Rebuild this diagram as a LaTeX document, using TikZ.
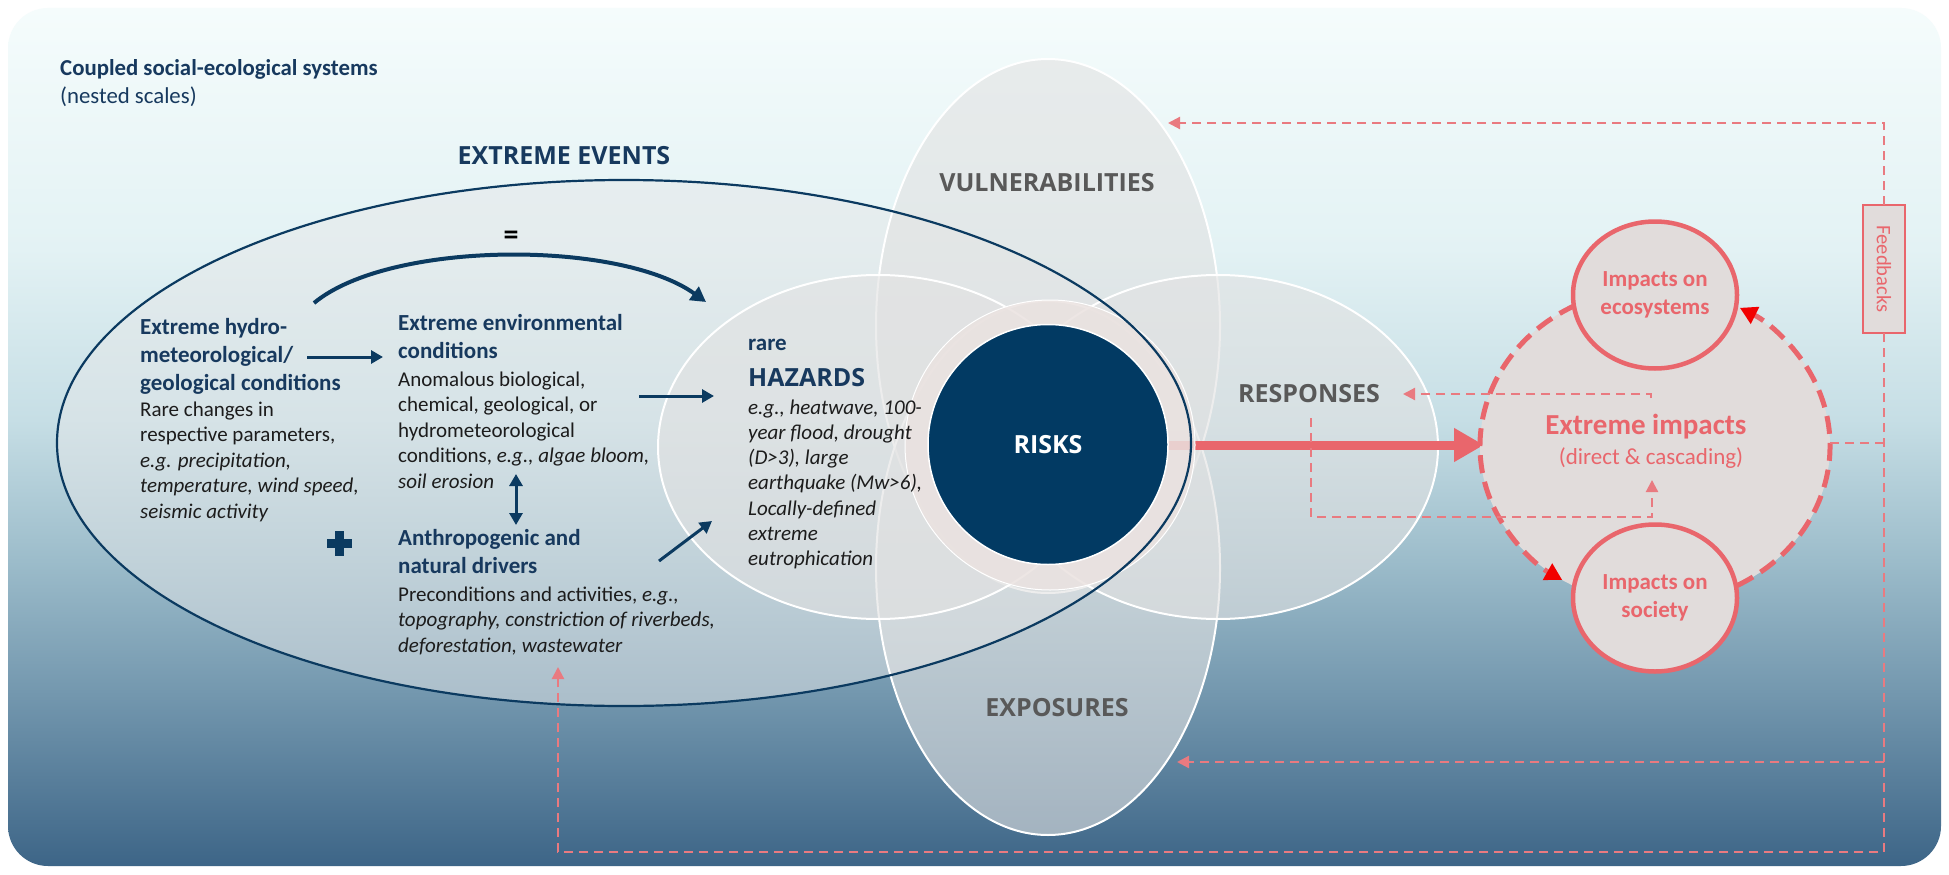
\documentclass[tikz,border=0pt]{standalone}
\usepackage{fontspec}
\setmainfont{Carlito}
\newfontfamily\osans{Open Sans}
\usetikzlibrary{arrows.meta,shapes.geometric,calc}
\definecolor{navy}{HTML}{0B3A60}
\definecolor{navytxt}{HTML}{17395E}
\definecolor{risknavy}{HTML}{023A63}
\definecolor{labgray}{HTML}{595959}
\definecolor{bodytxt}{HTML}{1C1C1C}
\definecolor{pinkc}{HTML}{E9666C}
\definecolor{pinkd}{HTML}{E97A80}
\definecolor{tipred}{HTML}{F20000}
\definecolor{petal}{HTML}{E2E2E2}
\definecolor{eefill}{HTML}{E6E8E9}
\definecolor{ringc}{HTML}{EAE2E0}
\definecolor{impfill}{HTML}{E1DCDB}
\definecolor{bgA}{HTML}{3D6587}
\definecolor{bgB}{HTML}{7397AE}
\definecolor{bgC}{HTML}{9DBDCB}
\definecolor{bgD}{HTML}{C6DEE5}
\definecolor{bgE}{HTML}{E3F2F4}
\definecolor{bgF}{HTML}{F5FCFC}
\pgfdeclareverticalshading{bgshade}{100bp}{color(0bp)=(bgA); color(25bp)=(bgA); color(35bp)=(bgB); color(43bp)=(bgC); color(51bp)=(bgD); color(61bp)=(bgE); color(75bp)=(bgF); color(100bp)=(bgF)}
\begin{document}
\begin{tikzpicture}[x=1pt,y=1pt,
  ttl/.style={font=\fontsize{23}{28}\selectfont\bfseries, text=navytxt, align=left, inner sep=0pt, anchor=north west},
  bdy/.style={font=\fontsize{21}{25.5}\selectfont, text=bodytxt, align=left, inner sep=0pt, anchor=north west},
  capslab/.style={font=\fontsize{25}{30}\selectfont\osans\bfseries, text=labgray, inner sep=0pt, anchor=base},
  petalnode/.style={ellipse, fill=petal, fill opacity=0.6, draw=white, draw opacity=1, line width=2pt, inner sep=0pt},
  navyarrow/.style={draw=navy, line width=3pt, -{Triangle[length=12pt,width=13pt]}},
  impcirc/.style={ellipse, draw=pinkc, line width=4.5pt, fill=impfill, minimum width=164pt, minimum height=147pt, inner sep=0pt, align=center, font=\fontsize{23}{28}\selectfont\bfseries, text=pinkc},
  fbline/.style={draw=pinkd, line width=2.2pt, dash pattern=on 9pt off 6pt},
  smalltip/.style={-{Triangle[length=12pt,width=12pt]}},
  impdash/.style={draw=pinkc, line width=5pt, dash pattern=on 18pt off 9pt, -{Triangle[length=17pt,width=18pt,color=tipred]}}
]
\useasboundingbox (0,0) rectangle (1949,-875);
\fill[white] (0,0) rectangle (1949,-875);
\shade[shading=bgshade, rounded corners=40pt] (8,-8) rectangle (1941,-866);

% big extreme events ellipse (fill)
\node[ellipse, fill=eefill, fill opacity=0.5, minimum width=1134pt, minimum height=526pt, inner sep=0pt] (ee) at (624,-443) {};

% petals
\node[petalnode, minimum width=344pt, minimum height=534pt] (vul) at (1048,-326) {};
\node[petalnode, minimum width=344pt, minimum height=534pt] (exp) at (1048,-568) {};
\node[petalnode, minimum width=440pt, minimum height=344pt] (haz) at (878,-447) {};
\node[petalnode, minimum width=440pt, minimum height=344pt] (resp) at (1218,-447) {};

% thick red arrow (starts under the ring)
\coordinate (riskE) at (1166,-445);
\coordinate (barc) at (1484,-445);
\draw[pinkc, line width=9pt, -{Triangle[length=30pt,width=32pt]}] (riskE) -- (barc);
\draw[pinkc, line width=4pt] (1488,-431) -- (1488,-459);

% ring around risks
\node[circle, fill=ringc, fill opacity=0.85, draw=white, line width=1pt, minimum size=290pt, inner sep=0pt] (ring) at (1050,-445) {};

% big ellipse outline
\draw[navy, line width=2.2pt] (ee.center) ellipse [x radius=567, y radius=263];

% RISKS
\node[circle, fill=risknavy, draw=white, line width=1.5pt, minimum size=240pt, inner sep=0pt, font=\fontsize{25}{30}\selectfont\osans\bfseries, text=white] (risk) at (1048,-444.5) {RISKS};

% labels
\node[font=\fontsize{22.8}{28}\selectfont\bfseries, text=navytxt, anchor=base west, inner sep=0pt] (cpl) at (60,-75) {Coupled social-ecological systems};
\node[font=\fontsize{22.8}{28}\selectfont, text=navytxt, anchor=base west, inner sep=0pt] (nst) at (60,-103) {(nested scales)};
\node[capslab, text=navytxt] (eet) at (564,-164) {EXTREME EVENTS};
\node[capslab] (vult) at (1047,-191) {VULNERABILITIES};
\node[capslab] (respt) at (1309,-402) {RESPONSES};
\node[capslab] (expt) at (1057,-716) {EXPOSURES};
\node[font=\fontsize{30}{30}\selectfont\bfseries, text=black, inner sep=0pt] (eq) at (511,-238) {=};

\node[ttl] (hydT) at (140,-318) {Extreme hydro-\\meteorological/\\geological conditions};
\node[bdy] (hydB) at (140,-401.6) {Rare changes in\\respective parameters,\\\textit{e.g. precipitation,}\\\textit{temperature, wind speed,}\\\textit{seismic activity}};
\node[ttl] (envT) at (398,-314) {Extreme environmental\\conditions};
\node[bdy] (envB) at (398,-371.6) {Anomalous biological,\\chemical, geological, or\\hydrometeorological\\conditions, \textit{e.g., algae bloom,}\\\textit{soil erosion}};
\node[ttl] (antT) at (398,-529) {Anthropogenic and\\natural drivers};
\node[bdy] (antB) at (398,-586.6) {Preconditions and activities, \textit{e.g.,}\\\textit{topography, constriction of riverbeds,}\\\textit{deforestation, wastewater}};
\node[font=\fontsize{23}{28}\selectfont\bfseries, text=navytxt, anchor=base west, inner sep=0pt] (rare) at (748,-350.5) {rare};
\node[font=\fontsize{25}{30}\selectfont\osans\bfseries, text=navytxt, anchor=base west, inner sep=0pt] (hazt) at (748,-386) {HAZARDS};
\node[font=\fontsize{21}{25.2}\selectfont\itshape, text=bodytxt, align=left, inner sep=0pt, anchor=north west] (hazB) at (748,-399.6) {e.g., heatwave, 100-\\year flood, drought\\(D>3), large\\earthquake (Mw>6),\\Locally-defined\\extreme\\eutrophication};

% plus sign
\fill[navy] (326.5,-547.5) rectangle (351.5,-538.5);
\fill[navy] (334.5,-530.5) rectangle (343.5,-555.5);

% navy arrows
\coordinate (a1s) at (307,-357); \coordinate (a1e) at (383,-357);
\coordinate (a2s) at (639,-396); \coordinate (a2e) at (714,-396);
\coordinate (a3s) at (516,-474); \coordinate (a3e) at (516,-525);
\coordinate (a4s) at (659,-561); \coordinate (a4e) at (712,-521);
\coordinate (cs) at (314,-303); \coordinate (ce) at (706,-302);
\draw[navyarrow] (a1s) -- (a1e);
\draw[navyarrow] (a2s) -- (a2e);
\draw[navyarrow, {Triangle[length=12pt,width=13pt]}-{Triangle[length=12pt,width=13pt]}] (a3s) -- (a3e);
\draw[navyarrow] (a4s) -- (a4e);
\draw[navyarrow, line width=4pt, -{Triangle[length=15pt,width=16pt]}] (cs) .. controls (390,-240) and (620,-240) .. (ce);

% extreme impacts
\coordinate (ic) at (1655,-446);
\fill[impfill] (ic) ellipse [x radius=175, y radius=158];
\draw[impdash] ($(ic)+(117:175 and 158)$) arc[start angle=117, end angle=238, x radius=175, y radius=158];
\draw[impdash] ($(ic)+(-62:175 and 158)$) arc[start angle=-62, end angle=61, x radius=175, y radius=158];
\node[impcirc] (eco) at (1655,-295) {Impacts on\\ecosystems};
\node[impcirc] (soc) at (1655,-598) {Impacts on\\society};
\node[font=\fontsize{29}{34}\selectfont\bfseries, text=pinkc, anchor=base, inner sep=0pt] (eit) at (1646,-434) {Extreme impacts};
\node[font=\fontsize{23}{28}\selectfont, text=pinkc, anchor=base, inner sep=0pt] (eis) at (1651,-464) {(direct \& cascading)};

% feedbacks
\node[draw=pinkc, line width=2pt, fill=impfill, rotate=-90, minimum width=128pt, minimum height=42pt, inner sep=0pt, text=pinkc, font=\fontsize{20.6}{24}\selectfont] (fb) at (1884,-269) {Feedbacks};
\coordinate (fbT) at (1884,-205);
\coordinate (fbB) at (1884,-333);
\coordinate (vulA) at (1168,-123);
\coordinate (expA) at (1177,-762);
\coordinate (fbJ1) at (1884,-443);
\coordinate (fbJ2) at (1884,-762);
\coordinate (impE) at (1830,-443);
\coordinate (fbC) at (558,-852);
\coordinate (antA) at (558,-667);
\coordinate (respA) at (1403,-394);
\coordinate (eiT) at (1651,-398);
\coordinate (rspB) at (1311,-418);
\coordinate (eiC) at (1652,-517);
\coordinate (eiA) at (1652,-480);
\draw[fbline, smalltip] (fbT) |- (vulA);
\draw[fbline, smalltip] (fbB) |- (fbC) -- (antA);
\draw[fbline] (impE) -- (fbJ1);
\draw[fbline, smalltip] (fbJ2) -- (expA);
\draw[fbline, smalltip] (eiT) |- (respA);
\draw[fbline, smalltip] (rspB) |- (eiC) -- (eiA);
\end{tikzpicture}
\end{document}
